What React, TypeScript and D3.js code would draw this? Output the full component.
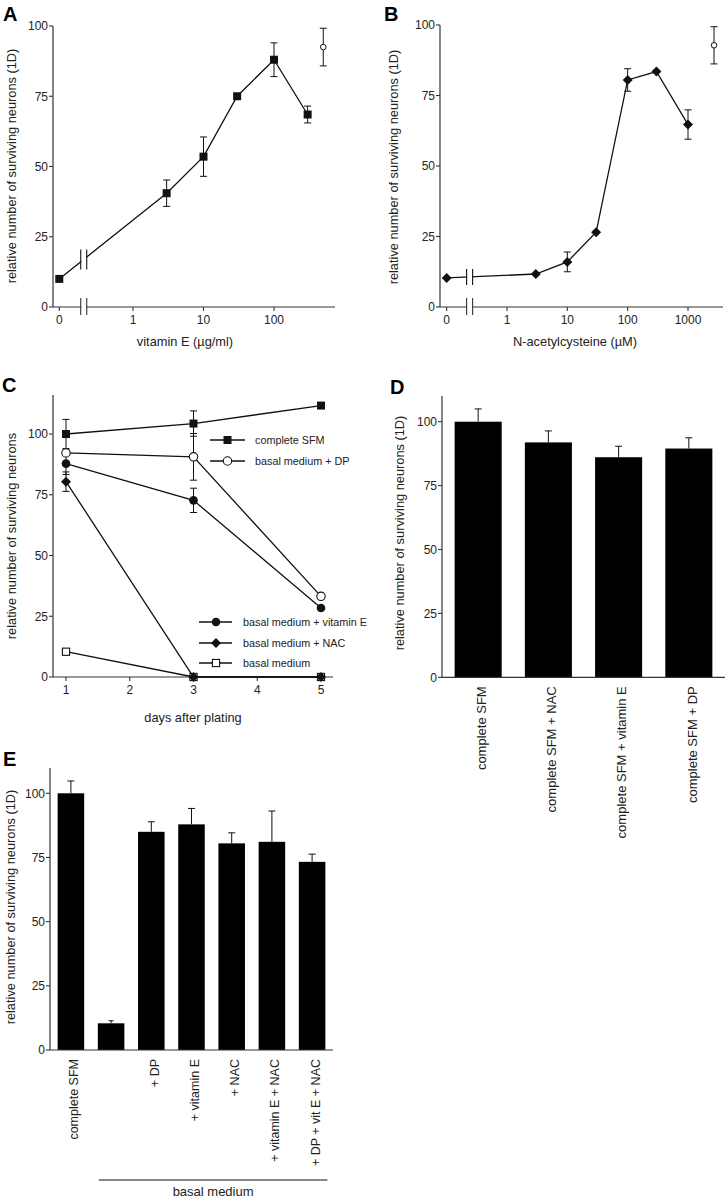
import React from 'react';
import * as d3 from 'd3';

const FONT = '"Liberation Sans", Arial, Helvetica, sans-serif';
const INK = '#111';
const AXIS = '#333';

// ---------- Panel A: vitamin E dose response ----------
const vitEConc = [3, 10, 30, 100, 300];
const vitESurvival = [40.5, 53.5, 75, 88, 68.5];
const vitEError = [4.7, 7, 0, 6, 3];
const vitEZeroSurvival = 10;
const vitEControlConc = 500;
const vitEControlSurvival = 92.5;
const vitEControlError = 6.7;
const vitETickValues = [1, 10, 100];
const vitETickLabels = ['1', '10', '100'];

// ---------- Panel B: N-acetylcysteine dose response ----------
const nacConc = [3, 10, 30, 100, 300, 1000];
const nacSurvival = [11.7, 16, 26.5, 80.5, 83.5, 64.7];
const nacError = [0, 3.5, 0, 4, 0, 5.2];
const nacZeroSurvival = 10.3;
const nacControlConc = 2700;
const nacControlSurvival = 92.8;
const nacControlError = 6.6;
const nacTickValues = [1, 10, 100, 1000];
const nacTickLabels = ['1', '10', '100', '1000'];

const survivalTicks = [0, 25, 50, 75, 100];

// ---------- Panel C: time course ----------
const days = [1, 3, 5];
const dayTicks = [1, 2, 3, 4, 5];
const sfmTime = [100, 104.3, 111.7];
const sfmTimeErr = [6, 5.2, 0];
const dpTime = [92.2, 90.6, 33.2];
const dpTimeErr = [0, 9.6, 0];
const vitETime = [87.8, 72.7, 28.4];
const vitETimeErr = [4.5, 5, 0];
const nacTime = [80.4, 0, 0];
const nacTimeErr = [4, 0, 0];
const basalTime = [10.4, 0, 0];
const basalTimeErr = [0, 0, 0];

// ---------- Panel D ----------
const dCategories = ['complete SFM', 'complete SFM + NAC', 'complete SFM + vitamin E', 'complete SFM + DP'];
const dValues = [100, 91.9, 86.1, 89.5];
const dErrors = [5, 4.5, 4.3, 4.2];

// ---------- Panel E ----------
const eCategories = ['complete SFM', '', '+ DP', '+ vitamin E', '+ NAC', '+ vitamin E + NAC', '+ DP + vit E + NAC'];
const eValues = [100, 10.4, 85, 87.9, 80.5, 81.1, 73.3];
const eErrors = [4.8, 1, 3.9, 6.2, 4.1, 12, 3];

type Shape = 'square' | 'openSquare' | 'circle' | 'openCircle' | 'diamond' | 'smallOpenCircle';

function Marker({ shape, x, y }: { shape: Shape; x: number; y: number }) {
  switch (shape) {
    case 'square':
      return <rect x={x - 4} y={y - 4} width={8} height={8} fill={INK} />;
    case 'openSquare':
      return <rect x={x - 3.6} y={y - 3.6} width={7.2} height={7.2} fill="#fff" stroke={INK} strokeWidth={1.1} />;
    case 'circle':
      return <circle cx={x} cy={y} r={4.3} fill={INK} />;
    case 'openCircle':
      return <circle cx={x} cy={y} r={4.2} fill="#fff" stroke={INK} strokeWidth={1.1} />;
    case 'smallOpenCircle':
      return <circle cx={x} cy={y} r={2.8} fill="#fff" stroke={INK} strokeWidth={1} />;
    case 'diamond':
      return <path d={`M${x},${y - 5}L${x + 5},${y}L${x},${y + 5}L${x - 5},${y}Z`} fill={INK} />;
  }
  return null;
}

function ErrBar({ x, y1, y2, cap = 3.5, both = true }: { x: number; y1: number; y2: number; cap?: number; both?: boolean }) {
  return (
    <g stroke={INK} strokeWidth={1}>
      <line x1={x} x2={x} y1={y1} y2={y2} />
      <line x1={x - cap} x2={x + cap} y1={y1} y2={y1} />
      {both && <line x1={x - cap} x2={x + cap} y1={y2} y2={y2} />}
    </g>
  );
}

function YAxis({ x, scale, top, fontSize = 12 }: { x: number; scale: d3.ScaleLinear<number, number>; top: number; fontSize?: number }) {
  return (
    <g>
      <line x1={x} x2={x} y1={top} y2={scale(0)} stroke={AXIS} strokeWidth={1.2} />
      {survivalTicks.map((t) => (
        <g key={t}>
          <line x1={x - 4} x2={x} y1={scale(t)} y2={scale(t)} stroke={AXIS} strokeWidth={1.1} />
          <text x={x - 5} y={scale(t)} dy="0.36em" textAnchor="end" fontSize={fontSize} fill="#222">
            {t}
          </text>
        </g>
      ))}
    </g>
  );
}

function YTitle({ x, cy, text }: { x: number; cy: number; text: string }) {
  return (
    <text transform={`translate(${x},${cy}) rotate(-90)`} textAnchor="middle" fontSize={12.8} fill="#222">
      {text}
    </text>
  );
}

function PanelLabel({ x, y, text }: { x: number; y: number; text: string }) {
  return (
    <text x={x} y={y} fontSize={20} fontWeight="bold" fill="#000">
      {text}
    </text>
  );
}

type DoseProps = {
  xScale: d3.ScaleLogarithmic<number, number>;
  yScale: d3.ScaleLinear<number, number>;
  zeroProxy: number;
  breakAt: number;
  conc: number[];
  surv: number[];
  err: number[];
  zeroSurv: number;
  ctrlConc: number;
  ctrlSurv: number;
  ctrlErr: number;
  tickValues: number[];
  tickLabels: string[];
  shape: Shape;
  axisX: number;
  axisEnd: number;
  breakHalf: number;
};

function DosePanel(p: DoseProps) {
  const { xScale, yScale } = p;
  const pts: [number, number][] = [[xScale(p.zeroProxy), yScale(p.zeroSurv)]].concat(
    p.conc.map((c, i) => [xScale(c), yScale(p.surv[i])] as [number, number])
  ) as [number, number][];
  const line = d3.line()(pts) || '';
  const bx = xScale(p.breakAt);
  const [x0, y0] = pts[0];
  const [x1, y1] = pts[1];
  const ly = y0 + ((bx - x0) / (x1 - x0)) * (y1 - y0);
  const axisY = yScale(0);
  const ticks = [{ v: p.zeroProxy, l: '0' }].concat(p.tickValues.map((v, i) => ({ v, l: p.tickLabels[i] })));
  return (
    <g>
      {/* x axis */}
      <line x1={p.axisX} x2={p.axisEnd} y1={axisY} y2={axisY} stroke={AXIS} strokeWidth={1.2} />
      {ticks.map((t) => (
        <g key={t.l}>
          <line x1={xScale(t.v)} x2={xScale(t.v)} y1={axisY} y2={axisY + 4} stroke={AXIS} strokeWidth={1.1} />
          <text x={xScale(t.v)} y={axisY + 17} textAnchor="middle" fontSize={12} fill="#222">
            {t.l}
          </text>
        </g>
      ))}
      {/* axis break */}
      <rect x={bx - 2.5} y={axisY - 2} width={5} height={4} fill="#fff" />
      <line x1={bx - 3} x2={bx - 3} y1={axisY - 9} y2={axisY + 8} stroke={AXIS} strokeWidth={1.1} />
      <line x1={bx + 3} x2={bx + 3} y1={axisY - 9} y2={axisY + 8} stroke={AXIS} strokeWidth={1.1} />
      {/* data line */}
      <path d={line} fill="none" stroke={INK} strokeWidth={1.3} />
      <rect x={bx - 2.5} y={ly - 3} width={5} height={6} fill="#fff" />
      <line x1={bx - 3} x2={bx - 3} y1={ly - p.breakHalf} y2={ly + p.breakHalf} stroke={INK} strokeWidth={1.1} />
      <line x1={bx + 3} x2={bx + 3} y1={ly - p.breakHalf} y2={ly + p.breakHalf} stroke={INK} strokeWidth={1.1} />
      {p.conc.map((c, i) =>
        p.err[i] > 0 ? (
          <ErrBar key={c} x={xScale(c)} y1={yScale(p.surv[i] + p.err[i])} y2={yScale(p.surv[i] - p.err[i])} cap={3.5} />
        ) : null
      )}
      {pts.map(([x, y], i) => (
        <Marker key={i} shape={p.shape} x={x} y={y} />
      ))}
      {/* control */}
      <ErrBar
        x={xScale(p.ctrlConc)}
        y1={yScale(p.ctrlSurv + p.ctrlErr)}
        y2={yScale(p.ctrlSurv - p.ctrlErr)}
        cap={3.5}
      />
      <Marker shape="smallOpenCircle" x={xScale(p.ctrlConc)} y={yScale(p.ctrlSurv)} />
    </g>
  );
}

function PanelA() {
  const y = d3.scaleLinear().domain([0, 100]).range([307, 26]);
  const x = d3.scaleLog().domain([1, 100]).range([133, 274]);
  return (
    <g>
      <PanelLabel x={3} y={21} text="A" />
      <YAxis x={53} scale={y} top={y(100)} />
      <DosePanel
        xScale={x}
        yScale={y}
        zeroProxy={0.09}
        breakAt={0.2}
        conc={vitEConc}
        surv={vitESurvival}
        err={vitEError}
        zeroSurv={vitEZeroSurvival}
        ctrlConc={vitEControlConc}
        ctrlSurv={vitEControlSurvival}
        ctrlErr={vitEControlError}
        tickValues={vitETickValues}
        tickLabels={vitETickLabels}
        shape="square"
        axisX={53}
        axisEnd={335}
        breakHalf={10}
      />
      <YTitle x={16} cy={166} text="relative number of surviving neurons (1D)" />
      <text x={185} y={346} textAnchor="middle" fontSize={12.8} fill="#222">
        vitamin E (µg/ml)
      </text>
    </g>
  );
}

function PanelB() {
  const y = d3.scaleLinear().domain([0, 100]).range([307, 25]);
  const x = d3.scaleLog().domain([1, 1000]).range([507, 688]);
  return (
    <g>
      <PanelLabel x={384} y={21} text="B" />
      <YAxis x={440} scale={y} top={y(100)} />
      <DosePanel
        xScale={x}
        yScale={y}
        zeroProxy={0.1}
        breakAt={0.24}
        conc={nacConc}
        surv={nacSurvival}
        err={nacError}
        zeroSurv={nacZeroSurvival}
        ctrlConc={nacControlConc}
        ctrlSurv={nacControlSurvival}
        ctrlErr={nacControlError}
        tickValues={nacTickValues}
        tickLabels={nacTickLabels}
        shape="diamond"
        axisX={440}
        axisEnd={723}
        breakHalf={8}
      />
      <YTitle x={398} cy={167} text="relative number of surviving neurons (1D)" />
      <text x={575} y={346} textAnchor="middle" fontSize={12.8} fill="#222">
        N-acetylcysteine (µM)
      </text>
    </g>
  );
}

function PanelC() {
  const y = d3.scaleLinear().domain([0, 100]).range([677, 434]);
  const x = d3.scaleLinear().domain([1, 5]).range([66, 321]);
  const axisY = y(0);
  const series: { name: string; vals: number[]; errs: number[]; shape: Shape }[] = [
    { name: 'basal medium', vals: basalTime, errs: basalTimeErr, shape: 'openSquare' },
    { name: 'basal medium + NAC', vals: nacTime, errs: nacTimeErr, shape: 'diamond' },
    { name: 'basal medium + vitamin E', vals: vitETime, errs: vitETimeErr, shape: 'circle' },
    { name: 'basal medium + DP', vals: dpTime, errs: dpTimeErr, shape: 'openCircle' },
    { name: 'complete SFM', vals: sfmTime, errs: sfmTimeErr, shape: 'square' },
  ];
  const line = d3
    .line<number>()
    .x((_, i) => x(days[i]))
    .y((v) => y(v));
  const legendTop = [
    { name: 'complete SFM', shape: 'square' as Shape, y: 440 },
    { name: 'basal medium + DP', shape: 'openCircle' as Shape, y: 461 },
  ];
  const legendBottom = [
    { name: 'basal medium + vitamin E', shape: 'circle' as Shape, y: 622 },
    { name: 'basal medium + NAC', shape: 'diamond' as Shape, y: 643 },
    { name: 'basal medium', shape: 'openSquare' as Shape, y: 663 },
  ];
  return (
    <g>
      <PanelLabel x={2} y={392} text="C" />
      <YAxis x={53} scale={y} top={395} />
      <line x1={53} x2={333} y1={axisY} y2={axisY} stroke={AXIS} strokeWidth={1.2} />
      {dayTicks.map((d) => (
        <g key={d}>
          <line x1={x(d)} x2={x(d)} y1={axisY} y2={axisY + 4} stroke={AXIS} strokeWidth={1.1} />
          <text x={x(d)} y={axisY + 17} textAnchor="middle" fontSize={12} fill="#222">
            {d}
          </text>
        </g>
      ))}
      {series.map((s) => (
        <path key={s.name} d={line(s.vals) || ''} fill="none" stroke={INK} strokeWidth={1.3} />
      ))}
      {series.map((s) =>
        s.vals.map((v, i) =>
          s.errs[i] > 0 ? (
            <ErrBar key={s.name + i} x={x(days[i])} y1={y(v + s.errs[i])} y2={y(v - s.errs[i])} cap={3.5} />
          ) : null
        )
      )}
      {series.map((s) => s.vals.map((v, i) => <Marker key={s.name + 'm' + i} shape={s.shape} x={x(days[i])} y={y(v)} />))}
      {legendTop.map((l) => (
        <g key={l.name}>
          <line x1={210} x2={245} y1={l.y} y2={l.y} stroke={INK} strokeWidth={1.3} />
          <Marker shape={l.shape} x={227.5} y={l.y} />
          <text x={255} y={l.y} dy="0.36em" fontSize={10.8} fill="#222">
            {l.name}
          </text>
        </g>
      ))}
      {legendBottom.map((l) => (
        <g key={l.name}>
          <line x1={199} x2={232} y1={l.y} y2={l.y} stroke={INK} strokeWidth={1.3} />
          <Marker shape={l.shape} x={216} y={l.y} />
          <text x={243} y={l.y} dy="0.36em" fontSize={10.8} fill="#222">
            {l.name}
          </text>
        </g>
      ))}
      <YTitle x={16} cy={536} text="relative number of surviving neurons" />
      <text x={193} y={722} textAnchor="middle" fontSize={12.8} fill="#222">
        days after plating
      </text>
    </g>
  );
}

function PanelD() {
  const y = d3.scaleLinear().domain([0, 100]).range([677.3, 421.7]);
  const x = d3.scaleBand<string>().domain(dCategories).range([442, 725]).paddingInner(0.33).paddingOuter(0.18);
  const bw = x.bandwidth();
  return (
    <g>
      <PanelLabel x={390} y={394} text="D" />
      {dCategories.map((c, i) => {
        const cx = (x(c) as number) + bw / 2;
        return (
          <g key={c}>
            <rect x={x(c)} y={y(dValues[i])} width={bw} height={y(0) - y(dValues[i])} fill="#000" />
            <ErrBar x={cx} y1={y(dValues[i] + dErrors[i])} y2={y(dValues[i])} cap={3.5} both={false} />
            <text
              transform={`translate(${cx + 3},${y(0) + 9}) rotate(-90)`}
              textAnchor="end"
              dy="0.36em"
              fontSize={13}
              fill="#222"
            >
              {c}
            </text>
          </g>
        );
      })}
      <YAxis x={442} scale={y} top={396} />
      <line x1={442} x2={725} y1={y(0)} y2={y(0)} stroke={AXIS} strokeWidth={1.2} />
      <YTitle x={404} cy={533} text="relative number of surviving neurons (1D)" />
    </g>
  );
}

function PanelE() {
  const y = d3.scaleLinear().domain([0, 100]).range([1050, 793.3]);
  const keys = eCategories.map((c, i) => `${i}:${c}`);
  const x = d3.scaleBand<string>().domain(keys).range([50, 333]).paddingInner(0.34).paddingOuter(0.19);
  const bw = x.bandwidth();
  const basalStart = (x(keys[1]) as number) + 1;
  const basalEnd = (x(keys[6]) as number) + bw + 2;
  return (
    <g>
      <PanelLabel x={3} y={766} text="E" />
      {keys.map((k, i) => {
        const cx = (x(k) as number) + bw / 2;
        return (
          <g key={k}>
            <rect x={x(k)} y={y(eValues[i])} width={bw} height={y(0) - y(eValues[i])} fill="#000" />
            <ErrBar x={cx} y1={y(eValues[i] + eErrors[i])} y2={y(eValues[i])} cap={i === 1 ? 2.5 : 3.5} both={false} />
            {eCategories[i] && (
              <text
                transform={`translate(${cx + 3},${y(0) + 9}) rotate(-90)`}
                textAnchor="end"
                dy="0.36em"
                fontSize={12.5}
                fill="#222"
              >
                {eCategories[i]}
              </text>
            )}
          </g>
        );
      })}
      <YAxis x={50} scale={y} top={768} />
      <line x1={50} x2={333} y1={y(0)} y2={y(0)} stroke={AXIS} strokeWidth={1.2} />
      <line x1={basalStart} x2={basalEnd} y1={1180} y2={1180} stroke={INK} strokeWidth={1.2} />
      <text x={(basalStart + basalEnd) / 2} y={1196} textAnchor="middle" fontSize={13} fill="#222">
        basal medium
      </text>
      <YTitle x={15} cy={907} text="relative number of surviving neurons (1D)" />
    </g>
  );
}

export default function App() {
  return (
    <svg
      width={727}
      height={1199}
      viewBox="0 0 727 1199"
      style={{ position: 'absolute', left: 0, top: 0, background: '#fff', display: 'block' }}
      fontFamily={FONT}
    >
      <rect x={0} y={0} width={727} height={1199} fill="#fff" />
      <PanelA />
      <PanelB />
      <PanelC />
      <PanelD />
      <PanelE />
    </svg>
  );
}
